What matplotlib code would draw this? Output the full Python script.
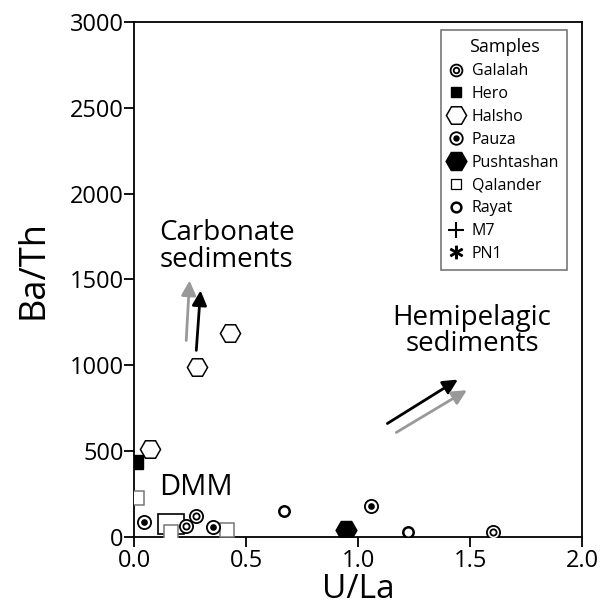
import matplotlib.pyplot as plt
from matplotlib.lines import Line2D
from matplotlib.patches import Rectangle
from matplotlib.legend_handler import HandlerTuple

plt.rcParams['font.family'] = ['Open Sans', 'DejaVu Sans']

# sample groups: U/La, Ba/Th
galalah_x = [0.23, 0.275, 1.604]
galalah_y = [64, 124, 27]
hero_x = [0.008]
hero_y = [438]
halsho_x = [0.07, 0.282, 0.428]
halsho_y = [510, 990, 1190]
pauza_x = [0.046, 0.354, 1.056]
pauza_y = [89, 58, 180]
pusht_x = [0.946]
pusht_y = [41]
qalander_x = [0.012, 0.167, 0.413]
qalander_y = [229, 31, 41]
rayat_x = [0.671, 1.224]
rayat_y = [153, 31]

# DMM field (x0, x1, y0, y1)
dmm_box = [0.105, 0.222, 16, 132]

# trend arrows (start, end) in data units
carb_gray = [(0.233, 1145), (0.248, 1494)]
carb_black = [(0.278, 1087), (0.297, 1436)]
hemi_black = [(1.131, 661), (1.446, 917)]
hemi_gray = [(1.171, 609), (1.486, 855)]

fig = plt.figure(figsize=(6.07, 6.06), dpi=100)
ax = fig.add_axes([0.2208, 0.1139, 0.738, 0.8498])

# DMM rectangle
ax.add_patch(Rectangle((dmm_box[0], dmm_box[2]), dmm_box[1] - dmm_box[0],
                       dmm_box[3] - dmm_box[2], fill=False, ec='black', lw=1.2, zorder=2))

ax.plot(qalander_x, qalander_y, 's', ms=9.5, mfc='white', mec='#777777', mew=1.1, zorder=3)
ax.plot(hero_x, hero_y, 's', ms=10, mfc='black', mec='black', zorder=4)
ax.plot(halsho_x, halsho_y, 'H', ms=14.5, mfc='white', mec='black', mew=1.1, zorder=3)
ax.plot(pusht_x, pusht_y, 'H', ms=15, mfc='black', mec='black', zorder=3)
ax.plot(rayat_x, rayat_y, 'o', ms=7.5, mfc='white', mec='black', mew=1.8, zorder=3)
ax.plot(galalah_x, galalah_y, 'o', ms=9.5, mfc='white', mec='black', mew=1.3, zorder=3)
ax.plot(galalah_x, galalah_y, 'o', ms=4.5, mfc='white', mec='black', mew=1.3, zorder=4)
ax.plot(pauza_x, pauza_y, 'o', ms=9.5, mfc='white', mec='black', mew=1.3, zorder=3)
ax.plot(pauza_x, pauza_y, 'o', ms=3.8, mfc='black', mec='black', zorder=4)

for (s, e), c in [(carb_gray, '#999999'), (carb_black, 'black'),
                  (hemi_black, 'black'), (hemi_gray, '#999999')]:
    ax.annotate('', xy=e, xytext=s,
                arrowprops=dict(arrowstyle='-|>', color=c, lw=2, mutation_scale=22,
                                shrinkA=0, shrinkB=0))

ax.text(0.414, 1690, 'Carbonate\nsediments', fontsize=20, ha='center', va='center',
        linespacing=0.95)
ax.text(1.509, 1200, 'Hemipelagic\nsediments', fontsize=20, ha='center', va='center',
        linespacing=0.95)
ax.text(0.275, 290, 'DMM', fontsize=21, ha='center', va='center')

ax.set_xlim(0, 2.0)
ax.set_ylim(0, 3000)
ax.set_xticks([0, 0.5, 1.0, 1.5, 2.0])
ax.set_xticklabels(['0.0', '0.5', '1.0', '1.5', '2.0'])
ax.set_yticks([0, 500, 1000, 1500, 2000, 2500, 3000])
ax.tick_params(direction='out', length=7, width=1.3, labelsize=17)
ax.tick_params(axis='x', pad=2)
ax.tick_params(axis='y', pad=0.5)
for sp in ax.spines.values():
    sp.set_linewidth(1.3)
ax.set_xlabel('U/La', fontsize=24, labelpad=0)
ax.set_ylabel('Ba/Th', fontsize=26)
ax.yaxis.set_label_coords(-0.185, 0.52)

# legend
handles = [
    (Line2D([], [], ls='', marker='o', ms=8.5, mfc='white', mec='black', mew=1.3),
     Line2D([], [], ls='', marker='o', ms=4, mfc='white', mec='black', mew=1.3)),
    Line2D([], [], ls='', marker='s', ms=7.5, mfc='black', mec='black'),
    Line2D([], [], ls='', marker='H', ms=14.5, mfc='white', mec='black', mew=1.1),
    (Line2D([], [], ls='', marker='o', ms=9, mfc='white', mec='black', mew=1.3),
     Line2D([], [], ls='', marker='o', ms=3.6, mfc='black', mec='black')),
    Line2D([], [], ls='', marker='H', ms=15, mfc='black', mec='black'),
    Line2D([], [], ls='', marker='s', ms=7, mfc='white', mec='black', mew=0.9),
    Line2D([], [], ls='', marker='o', ms=7, mfc='white', mec='black', mew=1.8),
    Line2D([], [], ls='', marker='+', ms=12, mec='black', mew=1.5),
    Line2D([], [], ls='', marker='$*$', ms=9, mfc='black', mec='black'),
]
labels = ['Galalah', 'Hero', 'Halsho', 'Pauza', 'Pushtashan', 'Qalander', 'Rayat', 'M7', 'PN1']
leg = ax.legend(handles, labels, title='Samples', loc='upper right',
                bbox_to_anchor=(0.9665, 0.984), fontsize=11.5, title_fontsize=13,
                frameon=True, fancybox=False, handlelength=0.9, handletextpad=0.5,
                labelspacing=0.43, borderpad=0.5, borderaxespad=0,
                handler_map={tuple: HandlerTuple(ndivide=1, pad=0)})
leg.get_frame().set_edgecolor('#555555')
leg.get_frame().set_linewidth(1.2)

fig.savefig('out.png', dpi=100)
